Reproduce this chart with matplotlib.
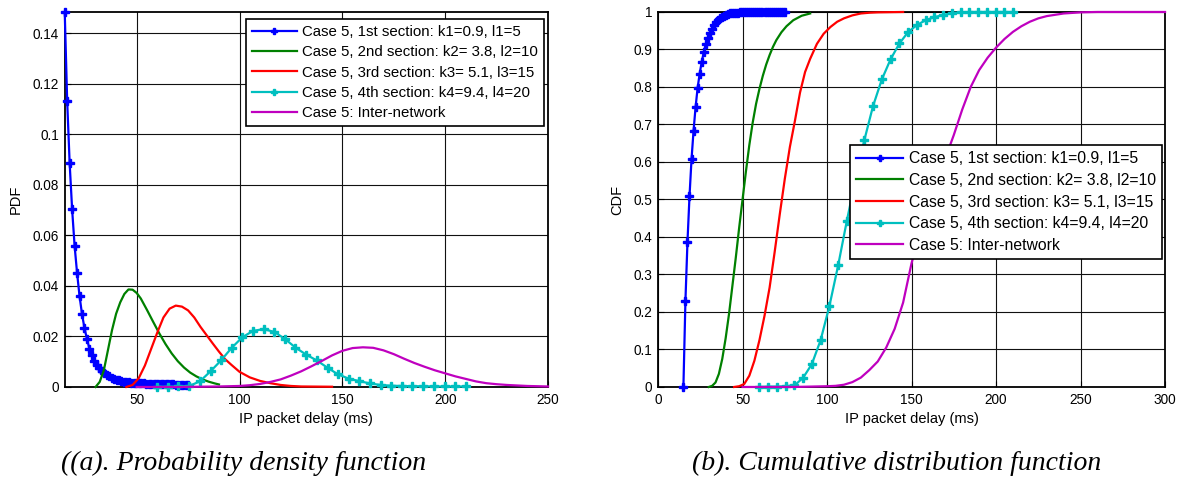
import matplotlib.pyplot as plt
from matplotlib.ticker import FuncFormatter

plt.rcParams['font.family'] = ['Liberation Sans', 'DejaVu Sans']

labels = ["Case 5, 1st section: k1=0.9, l1=5",
          "Case 5, 2nd section: k2= 3.8, l2=10",
          "Case 5, 3rd section: k3= 5.1, l3=15",
          "Case 5, 4th section: k4=9.4, l4=20",
          "Case 5: Inter-network"]
colors = ["#0000ff", "#008000", "#ff0000", "#00bfbf", "#bf00bf"]

# 1st section (markers)
x1 = [15.0, 16.2, 17.4, 18.6, 19.8, 21.0, 22.2, 23.4, 24.6, 25.8, 27.0, 28.2, 29.4,
      30.6, 31.8, 33.0, 34.2, 35.4, 36.6, 37.8, 39.0, 40.2, 41.4, 42.6, 43.8, 45.0,
      46.2, 47.4, 48.6, 49.8, 51.0, 52.2, 53.4, 54.6, 55.8, 57.0, 58.2, 59.4, 60.6,
      61.8, 63.0, 64.2, 65.4, 66.6, 67.8, 69.0, 70.2, 71.4, 72.6, 73.8, 75.0]
pdf1 = [0.1484, 0.113, 0.0885, 0.0703, 0.0559, 0.0452, 0.0360, 0.0289, 0.0233, 0.0191,
        0.0152, 0.0125, 0.0104, 0.0088, 0.0075, 0.0064, 0.0055, 0.0048, 0.0042, 0.0037,
        0.0033, 0.0029, 0.0026, 0.0023, 0.0021, 0.0019, 0.0018, 0.0017, 0.0016, 0.0015,
        0.0015, 0.0014, 0.0014, 0.0013, 0.0013, 0.0012, 0.0012, 0.0012, 0.0011, 0.0011,
        0.0011, 0.0010, 0.0010, 0.0010, 0.0010, 0.0009, 0.0009, 0.0009, 0.0009, 0.0008,
        0.0008]
cdf1 = [0.0, 0.23, 0.386, 0.508, 0.607, 0.683, 0.746, 0.797, 0.835, 0.866, 0.892, 0.914,
        0.930, 0.944, 0.955, 0.964, 0.972, 0.978, 0.983, 0.987, 0.990, 0.993, 0.995,
        0.996, 0.997, 0.997, 0.998, 0.998, 0.999, 0.999, 1.0, 1.0, 1.0, 1.0, 1.0, 1.0,
        1.0, 1.0, 1.0, 1.0, 1.0, 1.0, 1.0, 1.0, 1.0, 1.0, 1.0, 1.0, 1.0, 1.0, 1.0]

# 2nd section
x2_pdf = [30, 32, 34, 36, 38, 40, 42, 44, 46, 48, 50, 52, 55, 58, 61, 64, 67, 70, 73,
          76, 79, 82, 85, 88, 90]
pdf2 = [0.0, 0.002, 0.0065, 0.0145, 0.0225, 0.029, 0.0335, 0.0368, 0.0386, 0.0385,
        0.0372, 0.0350, 0.0305, 0.0258, 0.0212, 0.0170, 0.0133, 0.0102, 0.0077, 0.0057,
        0.0042, 0.0030, 0.0021, 0.0014, 0.0010]
x2_cdf = [30, 32, 34, 36, 38, 40, 42, 44, 46, 48, 50, 52, 54, 56, 58, 60, 62, 64, 66,
          68, 70, 73, 76, 80, 85, 90]
cdf2 = [0.0, 0.003, 0.012, 0.035, 0.075, 0.13, 0.195, 0.27, 0.345, 0.425, 0.50, 0.575,
        0.645, 0.705, 0.755, 0.795, 0.83, 0.86, 0.885, 0.907, 0.925, 0.946, 0.962,
        0.978, 0.990, 0.996]

# 3rd section
x3_pdf = [45, 48, 51, 54, 57, 60, 63, 66, 69, 72, 75, 78, 81, 84, 87, 90, 93, 96, 100,
          105, 110, 115, 120, 125, 130, 145]
pdf3 = [0.0, 0.0008, 0.0035, 0.0085, 0.015, 0.0215, 0.0275, 0.031, 0.0322, 0.0318,
        0.0303, 0.0275, 0.0238, 0.0205, 0.0172, 0.0140, 0.0110, 0.0088, 0.0060, 0.0038,
        0.0024, 0.0015, 0.0008, 0.0004, 0.0002, 0.0001]
x3_cdf = [45, 48, 51, 54, 57, 60, 63, 66, 69, 72, 75, 78, 81, 84, 87, 90, 94, 98, 102,
          106, 110, 115, 120, 125, 130, 145]
cdf3 = [0.0, 0.002, 0.008, 0.03, 0.07, 0.125, 0.19, 0.265, 0.36, 0.46, 0.555, 0.64,
        0.71, 0.785, 0.84, 0.875, 0.915, 0.942, 0.960, 0.974, 0.983, 0.991, 0.996,
        0.998, 0.999, 1.0]

# 4th section (markers)
x4 = [60.0, 65.2, 70.3, 75.5, 80.7, 85.9, 91.0, 96.2, 101.4, 106.6, 111.7, 116.9, 122.1,
      127.2, 132.4, 137.6, 142.8, 147.9, 153.1, 158.3, 163.4, 168.6, 173.8, 179.0,
      184.1, 189.3, 194.5, 199.7, 204.8, 210.0]
pdf4 = [0.0001, 0.0001, 0.0002, 0.0004, 0.0022, 0.0062, 0.0105, 0.0155, 0.0197, 0.0222,
        0.0229, 0.0218, 0.0190, 0.0156, 0.0128, 0.0105, 0.0076, 0.0050, 0.0033, 0.0023,
        0.0014, 0.0008, 0.0005, 0.0004, 0.0003, 0.0003, 0.0002, 0.0002, 0.0002, 0.0002]
cdf4 = [0.0, 0.001, 0.001, 0.002, 0.004, 0.025, 0.061, 0.125, 0.216, 0.325, 0.443, 0.555,
        0.659, 0.749, 0.820, 0.874, 0.916, 0.946, 0.965, 0.978, 0.986, 0.992, 0.997,
        0.999, 1.0, 1.0, 1.0, 1.0, 1.0, 1.0]

# inter-network
x5_pdf = [50, 60, 70, 80, 90, 100, 105, 110, 115, 120, 125, 130, 135, 140, 145, 150, 155,
          160, 165, 170, 175, 180, 185, 190, 195, 200, 205, 210, 215, 220, 225, 230, 235,
          240, 245, 250]
pdf5 = [0.0, 0.0, 0.0, 0.0001, 0.0002, 0.0004, 0.0007, 0.0012, 0.0020, 0.0030, 0.0045,
        0.0062, 0.0082, 0.0103, 0.0125, 0.0143, 0.0154, 0.0157, 0.0155, 0.0145, 0.0130,
        0.0112, 0.0095, 0.0080, 0.0066, 0.0054, 0.0042, 0.0032, 0.0022, 0.0015, 0.0011,
        0.0008, 0.0006, 0.0004, 0.0003, 0.0002]
x5_cdf = [50, 60, 70, 80, 90, 100, 105, 110, 115, 120, 125, 130, 135, 140, 145, 150, 155,
          160, 165, 170, 175, 180, 185, 190, 195, 200, 205, 210, 215, 220, 225, 230, 240,
          250, 260, 280, 300]
cdf5 = [0.0, 0.0, 0.0, 0.0, 0.001, 0.002, 0.003, 0.006, 0.013, 0.025, 0.045, 0.068, 0.105,
        0.155, 0.225, 0.33, 0.415, 0.48, 0.545, 0.61, 0.672, 0.74, 0.80, 0.845, 0.878,
        0.905, 0.928, 0.947, 0.962, 0.974, 0.983, 0.989, 0.996, 0.999, 1.0, 1.0, 1.0]

fmt = FuncFormatter(lambda v, p: "%g" % round(v, 4))


def style(ax, xlim, ylim, xticks, yticks, ylabel):
    ax.set_xlim(*xlim)
    ax.set_ylim(*ylim)
    ax.set_xticks(xticks)
    ax.set_yticks(yticks)
    ax.yaxis.set_major_formatter(fmt)
    ax.grid(True, color="#111111", lw=0.8)
    ax.tick_params(direction="in", length=4, labelsize=9.8, pad=4)
    for s in ax.spines.values():
        s.set_linewidth(1.3)
    ax.set_xlabel("IP packet delay (ms)", fontsize=10.5, labelpad=4)
    ax.set_ylabel(ylabel, fontsize=10.5, labelpad=7)


def draw(ax, series):
    for (x, y, mk), c, lab in zip(series, colors, labels):
        ax.plot(x, y, color=c, lw=1.6, marker=mk, markersize=5.6, label=lab,
                clip_on=False, zorder=3)


fig = plt.figure(figsize=(11.81, 4.83), dpi=100)
ax1 = fig.add_axes([0.0548, 0.1988, 0.4092, 0.7764])
ax2 = fig.add_axes([0.5572, 0.1988, 0.4293, 0.7764])

draw(ax1, [(x1, pdf1, "P"), (x2_pdf, pdf2, None), (x3_pdf, pdf3, None),
           (x4, pdf4, "P"), (x5_pdf, pdf5, None)])
style(ax1, (15, 250), (0, 0.1484), [50, 100, 150, 200, 250],
      [0, 0.02, 0.04, 0.06, 0.08, 0.1, 0.12, 0.14], "PDF")

draw(ax2, [(x1, cdf1, "P"), (x2_cdf, cdf2, None), (x3_cdf, cdf3, None),
           (x4, cdf4, "P"), (x5_cdf, cdf5, None)])
style(ax2, (0, 300), (0, 1), [0, 50, 100, 150, 200, 250, 300],
      [0, 0.1, 0.2, 0.3, 0.4, 0.5, 0.6, 0.7, 0.8, 0.9, 1], "CDF")

leg_kw = dict(fancybox=False, framealpha=1, edgecolor="black",
              handlelength=3.0, handletextpad=0.35, labelspacing=0.42,
              borderpad=0.4, borderaxespad=0, markerscale=0.75)
l1 = ax1.legend(loc="upper right", bbox_to_anchor=(0.992, 0.981), fontsize=10.8, **leg_kw)
l2 = ax2.legend(loc="upper right", bbox_to_anchor=(0.994, 0.645), fontsize=11.3, **leg_kw)
for lg in (l1, l2):
    lg.get_frame().set_linewidth(1.2)
    lg.set_zorder(10)

fig.text(0.2066, 0.04, "((a). Probability density function", fontsize=20,
         family="Liberation Serif", style="italic", ha="center", va="center")
fig.text(0.7595, 0.04, "(b). Cumulative distribution function", fontsize=20,
         family="Liberation Serif", style="italic", ha="center", va="center")

fig.savefig("out.png", dpi=100)
